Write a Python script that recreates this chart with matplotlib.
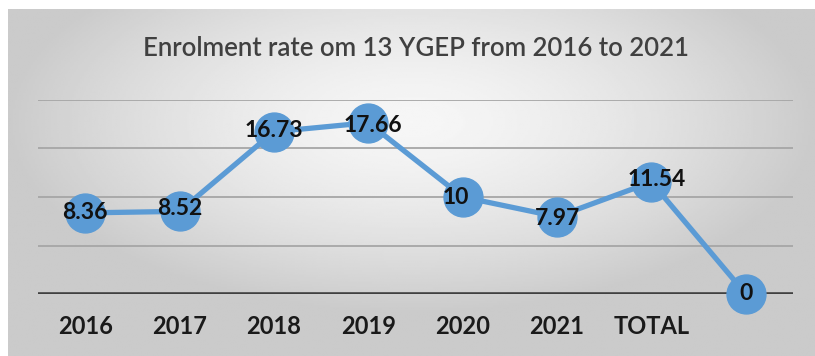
import numpy as np
import matplotlib
matplotlib.use("Agg")
import matplotlib.pyplot as plt

plt.rcParams['font.family'] = ['Lato', 'DejaVu Sans']

# data
categories = ["2016", "2017", "2018", "2019", "2020", "2021", "TOTAL", ""]
rates = [8.36, 8.52, 16.73, 17.66, 10, 7.97, 11.54, 0]
labels = ["8.36", "8.52", "16.73", "17.66", "10", "7.97", "11.54", "0"]

W, H = 815, 356
fig = plt.figure(figsize=(W / 100, H / 100), dpi=100)
fig.patch.set_facecolor("white")

# gradient background panel
bg = fig.add_axes([8 / W, 0, 1 - 8 / W, 1 - 9 / H])
yy, xx = np.mgrid[-1:1:200j, -1:1:400j]
r = np.sqrt((xx / 1.0) ** 2 + ((yy + 0.35) / 1.1) ** 2)
r = np.clip(r, 0, 1)
shade = 0.965 - 0.17 * r ** 1.5
bg.imshow(shade, cmap="gray", vmin=0, vmax=1, aspect="auto", extent=[0, 1, 0, 1])
bg.set_axis_off()

ax = fig.add_axes([38 / W, (H - 294) / H, (793 - 38) / W, 194 / H])
ax.patch.set_alpha(0)
x = np.arange(len(categories))

for g in [5, 10, 15, 20]:
    ax.axhline(g, color="#a6a6a6", lw=1.3, zorder=1)
ax.axhline(0, color="#404040", lw=2.6, zorder=1)

ax.plot(x, rates, color="#5b9bd5", lw=3.8, marker="o", markersize=28,
        markeredgecolor="#5b9bd5", clip_on=False, zorder=3)

offsets = [(0, 0), (0, 2), (0, 1), (3, -2), (-5, 0), (0, -1), (4, 2), (0, 0)]
for xi, v, lab, off in zip(x, rates, labels, offsets):
    ax.annotate(lab, (xi, v), xytext=off, textcoords="offset points",
                ha="center", va="center", fontsize=16.5, fontweight="bold",
                color="#111111", zorder=4, annotation_clip=False)

ax.set_xlim(-0.5, len(categories) - 0.5)
ax.set_ylim(0, 20)
ax.set_xticks(x)
ax.set_xticklabels(categories, fontsize=17, fontweight="bold", color="#1a1a1a")
ax.tick_params(axis="x", length=0, pad=15)
ax.set_yticks([])
for s in ax.spines.values():
    s.set_visible(False)

fig.text(416 / W, 1 - 48 / H, "Enrolment rate om 13 YGEP from 2016 to 2021",
         ha="center", va="center", fontsize=18.5, fontweight="semibold",
         color="#404040")

fig.savefig("out.png", dpi=100)
